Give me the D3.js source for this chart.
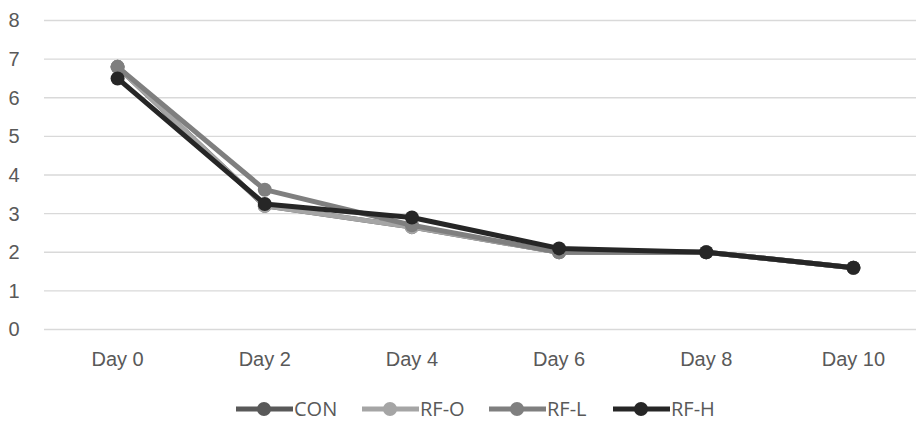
<!DOCTYPE html>
<html>
<head>
<meta charset="utf-8">
<script src="https://cdn.jsdelivr.net/npm/d3@7"></script>
<style>
  body { margin: 0; background: #fff; }
  svg { display: block; font-family: "Open Sans", "Noto Sans", sans-serif; }
</style>
</head>
<body>
<svg id="chart" width="916" height="428"></svg>
<script>
const days = ["Day 0", "Day 2", "Day 4", "Day 6", "Day 8", "Day 10"];
const seriesNames = ["CON", "RF-O", "RF-L", "RF-H"];
const conValues = [6.8, 3.2, 2.65, 2.0, 2.0, 1.6];
const rfoValues = [6.8, 3.2, 2.65, 2.0, 2.0, 1.6];
const rflValues = [6.8, 3.62, 2.7, 2.0, 2.0, 1.6];
const rfhValues = [6.5, 3.25, 2.9, 2.1, 2.0, 1.6];
const yTicks = [0, 1, 2, 3, 4, 5, 6, 7, 8];

const colors = {"CON": "#595959", "RF-O": "#a5a5a5", "RF-L": "#7f7f7f", "RF-H": "#262626"};
const series = [
  {name: "CON", values: conValues},
  {name: "RF-O", values: rfoValues},
  {name: "RF-L", values: rflValues},
  {name: "RF-H", values: rfhValues}
];

const svg = d3.select("#chart");
const x = d3.scaleBand().domain(days).range([44, 927]);
const y = d3.scaleLinear().domain([0, 8]).range([329.5, 20.5]);

// gridlines
svg.append("g")
  .selectAll("line").data(yTicks).enter().append("line")
  .attr("x1", 44).attr("x2", 927)
  .attr("y1", d => y(d)).attr("y2", d => y(d))
  .attr("stroke", "#d9d9d9").attr("stroke-width", 1.3);

// y axis labels
const yAxis = svg.append("g")
  .attr("transform", "translate(20,0)")
  .call(d3.axisLeft(y).tickValues(yTicks).tickSize(0).tickPadding(0));
yAxis.select(".domain").remove();
yAxis.selectAll("text")
  .attr("text-anchor", "middle").attr("x", -6)
  .attr("fill", "#595959").style("font-size", "20px");

// x axis labels
const xAxis = svg.append("g")
  .attr("transform", "translate(0,346)")
  .call(d3.axisBottom(x).tickSize(0).tickPadding(6));
xAxis.select(".domain").remove();
xAxis.selectAll("text").attr("fill", "#595959").style("font-size", "20px");

const line = d3.line()
  .x((d, i) => x(days[i]) + x.bandwidth() / 2)
  .y(d => y(d));

const g = svg.append("g");
series.forEach(s => {
  g.append("path")
    .attr("d", line(s.values))
    .attr("fill", "none")
    .attr("stroke", colors[s.name])
    .attr("stroke-width", 5)
    .attr("stroke-linejoin", "round");
  g.selectAll(null).data(s.values).enter().append("circle")
    .attr("cx", (d, i) => x(days[i]) + x.bandwidth() / 2)
    .attr("cy", d => y(d))
    .attr("r", 7)
    .attr("fill", colors[s.name]);
});

// legend
const legendX = [236, 362, 489, 613];
const legend = svg.append("g").selectAll("g").data(seriesNames).enter().append("g")
  .attr("transform", (d, i) => `translate(${legendX[i]},409)`);
legend.append("line")
  .attr("x1", 0).attr("x2", 57)
  .attr("stroke", d => colors[d]).attr("stroke-width", 5);
legend.append("circle")
  .attr("cx", 28).attr("r", 7)
  .attr("fill", d => colors[d]);
legend.append("text")
  .attr("x", 58).attr("y", 7)
  .attr("fill", "#595959").style("font-size", "20px")
  .text(d => d);
</script>
</body>
</html>
